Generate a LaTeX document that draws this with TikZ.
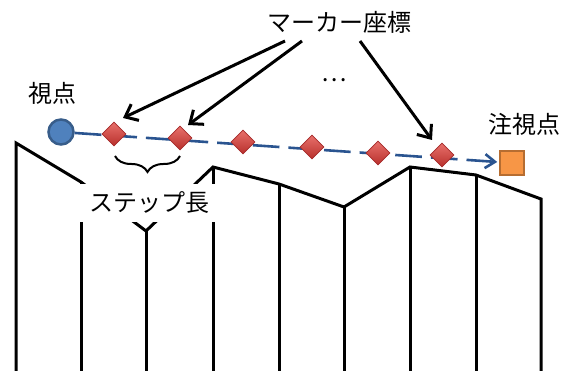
\documentclass[tikz,border=0pt]{standalone}
\usepackage{fontspec}
\setmainfont{Noto Sans CJK JP}
\usetikzlibrary{shapes.geometric,arrows.meta,decorations.pathreplacing}
\definecolor{vpfill}{HTML}{4F81BD}
\definecolor{vpline}{HTML}{385D8A}
\definecolor{tgfill}{HTML}{F79646}
\definecolor{tgline}{HTML}{B66D31}
\definecolor{rayblue}{HTML}{2A5490}
\definecolor{mkhi}{HTML}{E8706B}
\definecolor{mklo}{HTML}{B8302C}
\definecolor{mkline}{HTML}{A52A2A}
\tikzset{
  terrain/.style={line width=3pt, black, line join=miter},
  lbl/.style={font=\fontsize{24}{28}\selectfont, inner sep=0pt},
  marker/.style={diamond, minimum width=24pt, minimum height=24pt, inner sep=0pt,
     top color=mkhi, bottom color=mklo, draw=mkline, line width=0.6pt},
  ray/.style={rayblue, line width=2.6pt, dash pattern=on 26.7pt off 9pt,
     -{Straight Barb[length=10pt,width=14pt,line width=2.6pt]}},
  pointer/.style={black, line width=3pt,
     -{Straight Barb[length=11pt,width=18pt,line width=3pt]}}
}
\begin{document}
\begin{tikzpicture}[x=1pt,y=-1pt]
\useasboundingbox (0,0) rectangle (568,371);
% terrain
\draw[terrain] (16,371) -- (16,143) -- (81,182) -- (146,231) -- (213,167) -- (279,184)
  -- (344,207) -- (410,167) -- (476,175) -- (541,199) -- (541,371);
\foreach \x/\y in {81/182,146/231,213/167,279/184,344/207,410/167,476/175}
  \draw[terrain] (\x,\y) -- (\x,371);
% step label box
\node[lbl, fill=white, minimum width=136pt, minimum height=38pt] (step) at (147,203) {};
\node[lbl] (steptxt) at (149,203) {ステップ長};
% brace
\draw[line width=2pt, decorate, decoration={brace, amplitude=16pt}] (180,156) -- (115,156);
% viewpoint and target
\node[circle, minimum size=25pt, inner sep=0pt, fill=vpfill, draw=vpline, line width=2.5pt] (vp) at (61,132) {};
\node[rectangle, minimum size=24pt, inner sep=0pt, fill=tgfill, draw=tgline, line width=2.5pt] (tg) at (512,163) {};
\draw[ray, shorten >=1.5pt] (vp) -- (tg);
% markers
\node[marker] (d1) at (114,134) {};
\node[marker] (d2) at (180,138) {};
\node[marker] (d3) at (243,142) {};
\node[marker] (d4) at (312,147) {};
\node[marker] (d5) at (378,153) {};
\node[marker] (d6) at (442,155) {};
% labels
\node[lbl] (mk) at (339,22) {マーカー座標};
\node[lbl] (vpl) at (52,93) {視点};
\node[lbl] (tgl) at (524,124) {注視点};
\node[lbl] (dots) at (334,80) {…};
% pointers
\coordinate (s1) at (285,41);
\coordinate (s2) at (302,41);
\coordinate (s3) at (360,41);
\coordinate (t1) at (123,118);
\coordinate (t2) at (188,125);
\coordinate (t3) at (432,140);
\draw[pointer] (s1) -- (t1);
\draw[pointer] (s2) -- (t2);
\draw[pointer] (s3) -- (t3);
\end{tikzpicture}
\end{document}
